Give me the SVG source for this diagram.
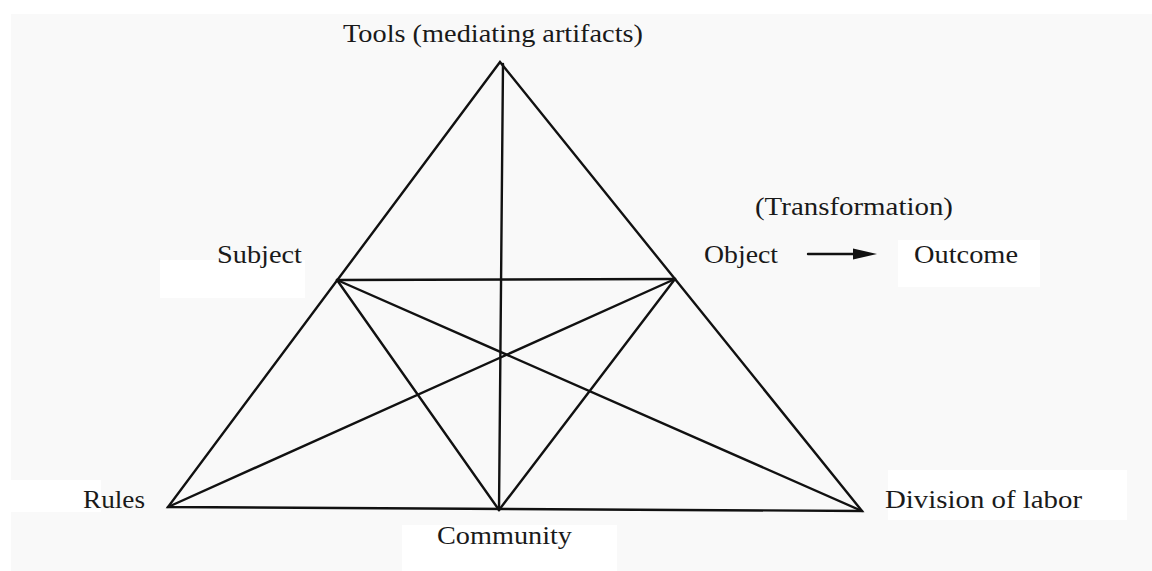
<svg xmlns="http://www.w3.org/2000/svg" width="1152" height="571" viewBox="0 0 1152 571">
<style>
.lbl{font-family:'Liberation Serif','Times New Roman','DejaVu Serif',serif;font-size:26px;fill:#1a1a1a}
.ln{stroke:#111;stroke-width:2.4;fill:none;stroke-linecap:round}
.pad{fill:#ffffff}
</style>
<rect width="1152" height="571" fill="#ffffff"/>
<rect x="11" y="14" width="1141" height="557" fill="#f9f9f9"/>
<g id="pads">
<rect class="pad" x="160" y="260" width="145" height="38"/>
<rect class="pad" x="898" y="240" width="142" height="47"/>
<rect class="pad" x="11" y="480" width="90" height="32"/>
<rect class="pad" x="402" y="525" width="215" height="46"/>
<rect class="pad" x="888" y="470" width="239" height="50"/>
</g>
<g id="connectors">
<polygon class="ln" points="500,62 168,507 862,511" stroke-linejoin="miter"/>
<line class="ln" x1="337" y1="280" x2="675" y2="279"/>
<line class="ln" x1="503" y1="64" x2="499" y2="510"/>
<line class="ln" x1="337" y1="280" x2="499" y2="510"/>
<line class="ln" x1="675" y1="279" x2="499" y2="510"/>
<line class="ln" x1="337" y1="280" x2="862" y2="511"/>
<line class="ln" x1="675" y1="279" x2="168" y2="507"/>
<line class="ln" x1="808" y1="254" x2="858" y2="254"/>
<polygon points="853,248.5 877,254 853,259.5" fill="#111"/>
</g>
<g id="node-tools"><text class="lbl" x="343" y="42" textLength="300" lengthAdjust="spacingAndGlyphs">Tools (mediating artifacts)</text></g>
<g id="node-subject"><text class="lbl" x="217" y="263" textLength="85" lengthAdjust="spacingAndGlyphs">Subject</text></g>
<g id="node-object"><text class="lbl" x="704" y="263" textLength="74" lengthAdjust="spacingAndGlyphs">Object</text></g>
<g id="node-transformation"><text class="lbl" x="755" y="215" textLength="198" lengthAdjust="spacingAndGlyphs">(Transformation)</text></g>
<g id="node-outcome"><text class="lbl" x="914" y="263" textLength="104" lengthAdjust="spacingAndGlyphs">Outcome</text></g>
<g id="node-rules"><text class="lbl" x="83" y="508" textLength="62" lengthAdjust="spacingAndGlyphs">Rules</text></g>
<g id="node-community"><text class="lbl" x="437" y="544" textLength="135" lengthAdjust="spacingAndGlyphs">Community</text></g>
<g id="node-division"><text class="lbl" x="885" y="508" textLength="197" lengthAdjust="spacingAndGlyphs">Division of labor</text></g>
</svg>
